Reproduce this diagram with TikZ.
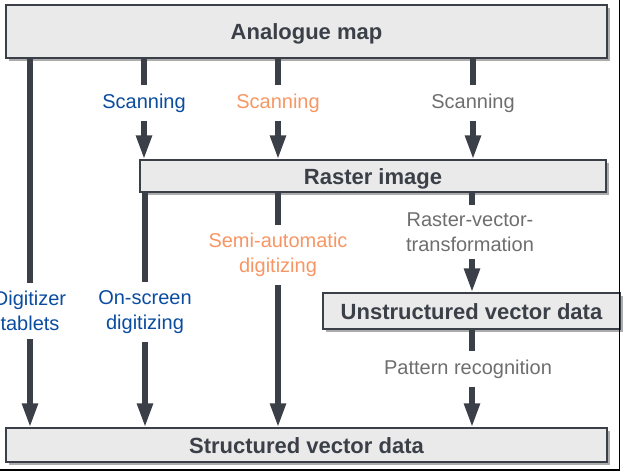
\documentclass[tikz,border=0pt]{standalone}
\usepackage{fontspec}
\setmainfont{Liberation Sans}
\usepackage{tikz}
\usetikzlibrary{arrows.meta, shadows, positioning}

\definecolor{boxfill}{RGB}{234,234,234}
\definecolor{darkline}{RGB}{59,64,72}
\definecolor{shadowgray}{RGB}{172,172,172}
\definecolor{scanblue}{RGB}{10,76,160}
\definecolor{scanorange}{RGB}{247,150,100}
\definecolor{scangray}{RGB}{110,110,110}

\begin{document}
\begin{tikzpicture}[x=1pt, y=-1pt,
    databox/.style={draw=darkline, line width=1.4pt, fill=boxfill,
        text=darkline, font=\fontsize{22}{26}\selectfont\bfseries,
        text height=16pt, text depth=0pt,
        drop shadow={shadow xshift=2.5pt, shadow yshift=-2.5pt,
            fill=shadowgray, opacity=1}},
    steplabel/.style={align=center, inner sep=8pt,
        font=\fontsize{20}{24.5}\selectfont},
    flow/.style={darkline, line width=5.5pt},
    flowarrow/.style={flow, -{Triangle[length=24pt, width=15pt]}}]
    \useasboundingbox (0,0) rectangle (624,472);

    % Boxes
    \node[databox, minimum width=601pt, minimum height=53pt] (analogue)
        at (306.5,31.5) {Analogue map};
    \node[databox, minimum width=466pt, minimum height=32pt] (raster)
        at (373,176) {Raster image};
    \node[databox, minimum width=297pt, minimum height=36pt] (unstructured)
        at (471.5,311) {Unstructured vector data};
    \node[databox, minimum width=601pt, minimum height=34pt] (structured)
        at (306.5,445) {Structured vector data};

    % Step labels
    \node[steplabel, text=scanblue] (scanA) at (144,103) {Scanning};
    \node[steplabel, text=scanorange] (scanB) at (278,103) {Scanning};
    \node[steplabel, text=scangray] (scanC) at (473,103) {Scanning};
    \node[steplabel, text=scanblue] (tablets) at (30,311) {Digitizer\\tablets};
    \node[steplabel, text=scanblue] (onscreen) at (145,312) {On-screen\\digitizing};
    \node[steplabel, text=scanorange] (semiauto) at (278,255) {Semi-automatic\\digitizing};
    \node[steplabel, text=scangray] (rvt) at (470,232) {Raster-vector-\\transformation};
    \node[steplabel, text=scangray] (pattern) at (468,369) {Pattern recognition};

    % Scanning
    \foreach \lbl in {scanA,scanB,scanC} {
        \draw[flow] (analogue.south -| \lbl) -- (\lbl.north);
        \draw[flowarrow] (\lbl.south) -- (raster.north -| \lbl);
    }

    % Digitizing
    \draw[flow] (analogue.south -| tablets) -- (tablets.north);
    \draw[flowarrow] (tablets.south) -- (structured.north -| tablets);
    \draw[flow] (raster.south -| onscreen) -- (onscreen.north);
    \draw[flowarrow] (onscreen.south) -- (structured.north -| onscreen);
    \draw[flow] (raster.south -| semiauto) -- (semiauto.north);
    \draw[flowarrow] (semiauto.south) -- (structured.north -| semiauto);

    % Vectorisation
    \draw[flow] (raster.south -| 472,0) -- (rvt.north -| 472,0);
    \draw[flowarrow] (rvt.south -| 472,0) -- (unstructured.north -| 472,0);
    \draw[flow] (unstructured.south -| 472,0) -- (pattern.north -| 472,0);
    \draw[flowarrow] (pattern.south -| 472,0) -- (structured.north -| 472,0);

    % Frame edges
    \draw[black, line width=1.5pt] (619.5,0) -- (619.5,470) -- (0,470);
\end{tikzpicture}
\end{document}
